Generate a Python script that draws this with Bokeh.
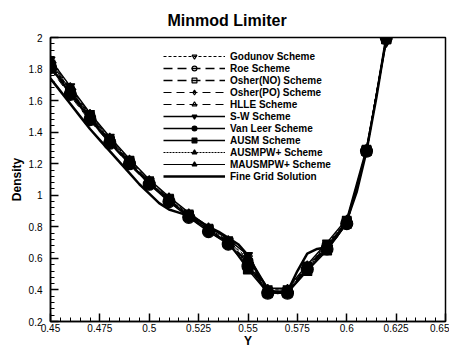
import math
from bokeh.plotting import figure
from bokeh.models import (FixedTicker, Legend, LegendItem, Range1d, Title)
from bokeh.embed import file_html
from bokeh.resources import INLINE

# ---------------- data ----------------
x_coarse = [0.45, 0.46, 0.47, 0.48, 0.49, 0.50, 0.51, 0.52, 0.53,
            0.54, 0.55, 0.56, 0.57, 0.58, 0.59, 0.60, 0.61, 0.62]

godunov  = [1.84, 1.67, 1.51, 1.36, 1.22, 1.09, 0.98, 0.88, 0.79, 0.71, 0.60, 0.40, 0.40, 0.55, 0.69, 0.84, 1.29, 2.00]
roe      = [1.83, 1.66, 1.50, 1.35, 1.21, 1.08, 0.97, 0.87, 0.78, 0.70, 0.58, 0.39, 0.39, 0.54, 0.68, 0.83, 1.28, 1.99]
osher_no = [1.82, 1.65, 1.49, 1.34, 1.21, 1.08, 0.97, 0.87, 0.78, 0.70, 0.57, 0.39, 0.39, 0.54, 0.67, 0.83, 1.28, 1.99]
osher_po = [1.85, 1.68, 1.51, 1.36, 1.22, 1.09, 0.98, 0.88, 0.79, 0.71, 0.59, 0.40, 0.40, 0.55, 0.68, 0.84, 1.29, 2.00]
hlle     = [1.80, 1.63, 1.47, 1.33, 1.19, 1.07, 0.96, 0.86, 0.77, 0.69, 0.56, 0.38, 0.38, 0.53, 0.66, 0.82, 1.27, 1.98]
sw       = [1.86, 1.69, 1.52, 1.37, 1.23, 1.10, 0.99, 0.89, 0.80, 0.72, 0.62, 0.41, 0.41, 0.56, 0.70, 0.85, 1.30, 1.97]
vanleer  = [1.81, 1.64, 1.48, 1.33, 1.20, 1.07, 0.96, 0.86, 0.77, 0.69, 0.55, 0.38, 0.38, 0.53, 0.66, 0.82, 1.28, 2.00]
ausm     = [1.82, 1.65, 1.49, 1.34, 1.20, 1.08, 0.97, 0.87, 0.78, 0.70, 0.53, 0.38, 0.38, 0.52, 0.65, 0.82, 1.28, 1.99]
ausmpw   = [1.83, 1.66, 1.50, 1.35, 1.21, 1.08, 0.97, 0.87, 0.78, 0.70, 0.56, 0.39, 0.39, 0.54, 0.67, 0.83, 1.28, 1.99]
mausmpw  = [1.84, 1.67, 1.50, 1.35, 1.21, 1.08, 0.97, 0.87, 0.78, 0.70, 0.57, 0.39, 0.39, 0.54, 0.68, 0.83, 1.28, 1.99]

x_fine = [0.45, 0.455, 0.46, 0.465, 0.47, 0.475, 0.48, 0.485, 0.49, 0.495,
          0.50, 0.505, 0.51, 0.515, 0.52, 0.525, 0.53, 0.535, 0.54, 0.545,
          0.55, 0.555, 0.56, 0.565, 0.57, 0.575, 0.58, 0.585, 0.59, 0.595,
          0.60, 0.605, 0.61, 0.615, 0.62]
fine = [1.74, 1.66, 1.58, 1.50, 1.42, 1.35, 1.28, 1.21, 1.14, 1.07,
        1.01, 0.95, 0.91, 0.89, 0.87, 0.84, 0.80, 0.77, 0.73, 0.69,
        0.62, 0.50, 0.41, 0.38, 0.39, 0.52, 0.63, 0.66, 0.67, 0.74,
        0.84, 1.02, 1.28, 1.62, 2.00]

x_ticks = [0.45, 0.475, 0.5, 0.525, 0.55, 0.575, 0.6, 0.625, 0.65]
x_labels = ["0.45", "0.475", "0.5", "0.525", "0.55", "0.575", "0.6", "0.625", "0.65"]
y_ticks = [0.2, 0.4, 0.6, 0.8, 1.0, 1.2, 1.4, 1.6, 1.8, 2.0]
y_labels = ["0.2", "0.4", "0.6", "0.8", "1", "1.2", "1.4", "1.6", "1.8", "2"]
x_minor = [round(0.45 + 0.005 * i, 3) for i in range(41)]
y_minor = [round(0.2 + 0.04 * i, 2) for i in range(46)]

# (label, values, marker, filled, size, dash, width, angle)
schemes = [
    ("Godunov Scheme",   godunov,  "inverted_triangle", False, 9,  "3 2", 1.0, 0.0),
    ("Roe Scheme",       roe,      "circle",            False, 10, "9 5", 1.5, 0.0),
    ("Osher(NO) Scheme", osher_no, "square",            False, 9,  "9 5", 1.5, 0.0),
    ("Osher(PO) Scheme", osher_po, "diamond",           False, 11, "8 5", 1.0, 0.0),
    ("HLLE Scheme",      hlle,     "triangle",          False, 9,  "8 5", 1.0, 0.0),
    ("S-W Scheme",       sw,       "inverted_triangle", True,  9,  "solid", 1.5, 0.0),
    ("Van Leer Scheme",  vanleer,  "circle",            True,  12, "solid", 1.5, 0.0),
    ("AUSM Scheme",      ausm,     "square",            True,  9,  "solid", 1.5, 0.0),
    ("AUSMPW+ Scheme",   ausmpw,   "triangle",          True,  10, "2 1", 1.0, 0.0),
    ("MAUSMPW+ Scheme",  mausmpw,  "triangle",          True,  10, "solid", 1.0, -math.pi / 2),
]

# ---------------- figure ----------------
p = figure(width=449, height=350, output_backend="svg", toolbar_location=None,
           x_range=Range1d(0.45, 0.65), y_range=Range1d(0.2, 2.0),
           min_border_left=50, min_border_right=4, min_border_top=10,
           min_border_bottom=26, background_fill_color="white",
           border_fill_color="white")
p.title = Title(text="Minmod Limiter", align="left", offset=117,
                text_font="Liberation Sans", text_font_size="16px",
                text_font_style="bold", text_color="black", standoff=18)
p.grid.visible = False
p.outline_line_color = "black"
p.outline_line_width = 1.5

for ax in (p.xaxis[0], p.yaxis[0]):
    ax.axis_line_width = 1.5
    ax.axis_line_color = "black"
    ax.major_tick_in = 8
    ax.major_tick_out = 0
    ax.minor_tick_in = 4
    ax.minor_tick_out = 0
    ax.major_tick_line_width = 1.5
    ax.major_tick_line_color = "black"
    ax.minor_tick_line_color = "black"
    ax.major_label_text_font = "Liberation Sans"
    ax.major_label_text_font_size = "10px"
    ax.major_label_text_color = "black"
    ax.axis_label_text_font = "Liberation Sans"
    ax.axis_label_text_font_style = "bold"
    ax.axis_label_text_font_size = "12px"
    ax.axis_label_text_color = "black"
    ax.axis_label_standoff = 2

p.xaxis.ticker = FixedTicker(ticks=x_ticks, minor_ticks=x_minor)
p.yaxis.ticker = FixedTicker(ticks=y_ticks, minor_ticks=y_minor)
p.xaxis.major_label_overrides = dict(zip(x_ticks, x_labels))
p.yaxis.major_label_overrides = dict(zip(y_ticks, y_labels))
p.xaxis.axis_label = "Y"
p.yaxis.axis_label = "Density"
p.xaxis.major_label_standoff = 2
p.yaxis.major_label_standoff = 8
p.xaxis.axis_label_standoff = -1

items = []
for label, vals, marker, filled, size, dash, width, angle in schemes:
    lr = p.line(x_coarse, vals, line_color="black", line_width=width,
                line_dash=dash)
    sr = p.scatter(x_coarse, vals, marker=marker, size=size, angle=angle,
                   line_color="black", line_width=1.2,
                   fill_color="black" if filled else "white",
                   fill_alpha=1.0 if filled else 0.0)
    items.append(LegendItem(label=label, renderers=[lr, sr]))

fr = p.line(x_fine, fine, line_color="black", line_width=2.5)
items.append(LegendItem(label="Fine Grid Solution", renderers=[fr]))

legend = Legend(items=items, location=(113, 139), orientation="vertical",
                glyph_width=62, glyph_height=12, label_height=12,
                spacing=0, padding=0, margin=0, label_standoff=5,
                label_text_font="Liberation Sans", label_text_font_style="bold",
                label_text_font_size="10px", label_text_color="black",
                border_line_alpha=0, background_fill_alpha=0)
p.add_layout(legend)

open("out.html", "w").write(file_html(p, INLINE))
